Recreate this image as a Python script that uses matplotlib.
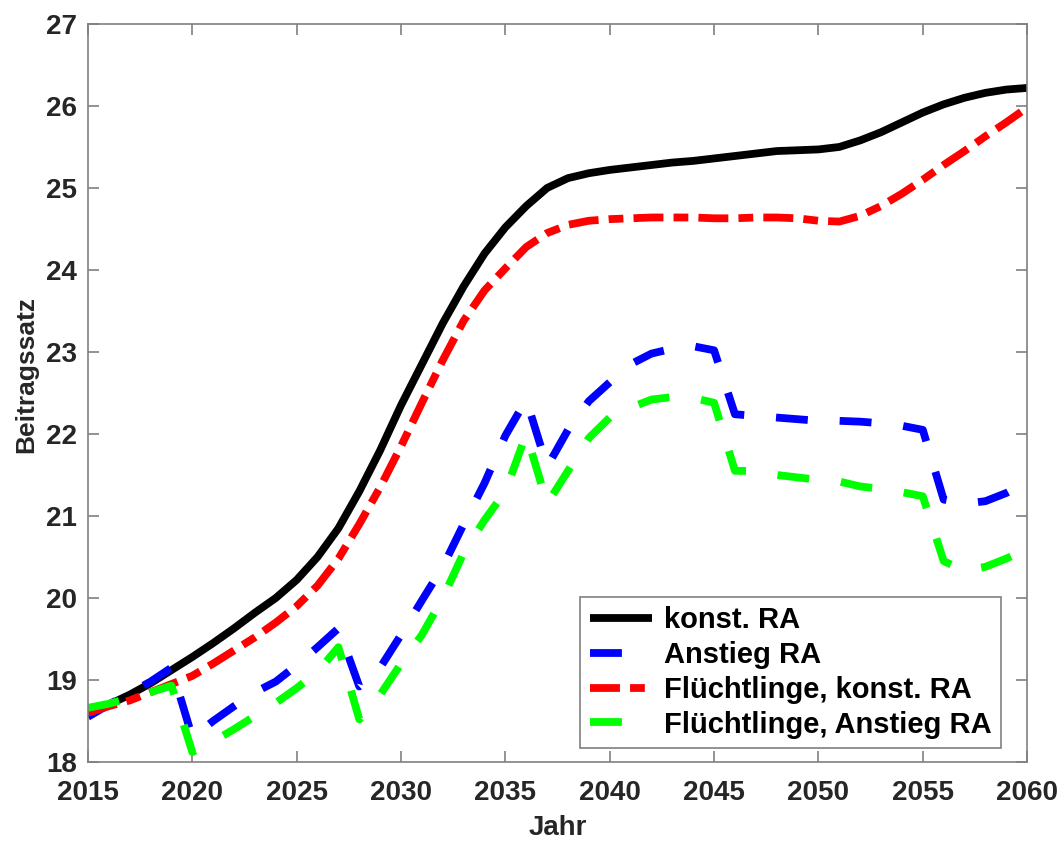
"""
Beitragssatz projection 2015-2060, four scenarios (MATLAB-style line chart).
"""

import matplotlib

matplotlib.use("Agg")
import matplotlib.pyplot as plt  # noqa: E402
import numpy as np  # noqa: E402

years = np.arange(2015, 2061)

konst_ra = [
    18.60, 18.70, 18.82, 18.96, 19.12, 19.28, 19.45, 19.63, 19.82, 20.00,
    20.22, 20.50, 20.85, 21.30, 21.80, 22.35, 22.85, 23.35, 23.80, 24.20,
    24.52, 24.78, 25.00, 25.12, 25.18, 25.22, 25.25, 25.28, 25.31, 25.33,
    25.36, 25.39, 25.42, 25.45, 25.46, 25.47, 25.50, 25.58, 25.68, 25.80,
    25.92, 26.02, 26.10, 26.16, 26.20, 26.22,
]
anstieg_ra = [
    18.55, 18.70, 18.84, 18.98, 19.15, 18.30, 18.50, 18.68, 18.85, 18.98,
    19.18, 19.40, 19.63, 18.92, 19.15, 19.55, 19.97, 20.38, 20.90, 21.40,
    21.98, 22.42, 21.60, 22.05, 22.40, 22.63, 22.85, 22.98, 23.04, 23.07,
    23.02, 22.24, 22.22, 22.20, 22.18, 22.16, 22.16, 22.15, 22.13, 22.10,
    22.05, 21.20, 21.15, 21.18, 21.28, 21.42,
]
fluecht_konst = [
    18.60, 18.68, 18.75, 18.85, 18.95, 19.05, 19.20, 19.36, 19.52, 19.70,
    19.90, 20.15, 20.48, 20.90, 21.35, 21.85, 22.38, 22.90, 23.38, 23.75,
    24.02, 24.28, 24.45, 24.55, 24.60, 24.62, 24.63, 24.64, 24.64, 24.64,
    24.63, 24.63, 24.64, 24.64, 24.63, 24.60, 24.59, 24.66, 24.78, 24.93,
    25.10, 25.28, 25.45, 25.63, 25.80, 25.98,
]
fluecht_anstieg = [
    18.66, 18.71, 18.78, 18.85, 18.93, 18.12, 18.25, 18.40, 18.56, 18.72,
    18.90, 19.10, 19.40, 18.52, 18.82, 19.20, 19.55, 20.00, 20.55, 20.95,
    21.30, 22.00, 21.15, 21.55, 21.95, 22.20, 22.32, 22.42, 22.45, 22.44,
    22.38, 21.55, 21.55, 21.50, 21.47, 21.44, 21.42, 21.36, 21.33, 21.29,
    21.24, 20.45, 20.33, 20.38, 20.48, 20.60,
]

labels = ["konst. RA", "Anstieg RA", "Flüchtlinge, konst. RA", "Flüchtlinge, Anstieg RA"]

plt.rcParams["font.family"] = ["Liberation Sans", "DejaVu Sans"]
plt.rcParams["font.weight"] = "bold"

fig = plt.figure(figsize=(10.6, 8.41), dpi=100)
ax = fig.add_axes([0.083, 0.094, 0.886, 0.8775])

lw = 5.6
dash = (0, (4.1, 4.1))
dashdot = (0, (3.85, 1.3, 1.9, 1.3))
ax.plot(years, konst_ra, color="black", lw=lw, solid_capstyle="butt", label=labels[0])
ax.plot(years, anstieg_ra, color="#0000ff", lw=lw, linestyle=dash,
        dash_capstyle="butt", label=labels[1])
ax.plot(years, fluecht_konst, color="#ff0000", lw=lw, linestyle=dashdot,
        dash_capstyle="butt", label=labels[2])
ax.plot(years, fluecht_anstieg, color="#00ff00", lw=lw, linestyle=dash,
        dash_capstyle="butt", label=labels[3])

ax.set_xlim(2015, 2060)
ax.set_ylim(18, 27)
ax.set_xticks(np.arange(2015, 2061, 5))
ax.set_yticks(np.arange(18, 28, 1))
ax.tick_params(direction="in", length=8, width=1.2, colors="#808080",
               labelcolor="#262626", labelsize=20, top=True, right=True)
ax.tick_params(axis="x", pad=13)
ax.tick_params(axis="y", pad=8)
for lab in ax.get_xticklabels() + ax.get_yticklabels():
    lab.set_fontweight("bold")
for sp in ax.spines.values():
    sp.set_color("#808080")
    sp.set_linewidth(1.2)

ax.set_xlabel("Jahr", fontsize=20, fontweight="bold", color="#262626")
ax.set_ylabel("Beitragssatz", fontsize=19, fontweight="bold", color="#262626")
ax.xaxis.set_label_coords(0.5, -0.072)
ax.yaxis.set_label_coords(-0.053, 0.525)

leg = ax.legend(loc="lower right", bbox_to_anchor=(0.972, 0.019), borderaxespad=0,
                handlelength=2.15, handletextpad=0.4, labelspacing=0.23,
                borderpad=0.32, fancybox=False, framealpha=1.0, edgecolor="#808080",
                prop={"weight": "bold", "size": 21})
leg.get_frame().set_linewidth(1.2)

fig.savefig("out.png", dpi=100)
plt.close(fig)
